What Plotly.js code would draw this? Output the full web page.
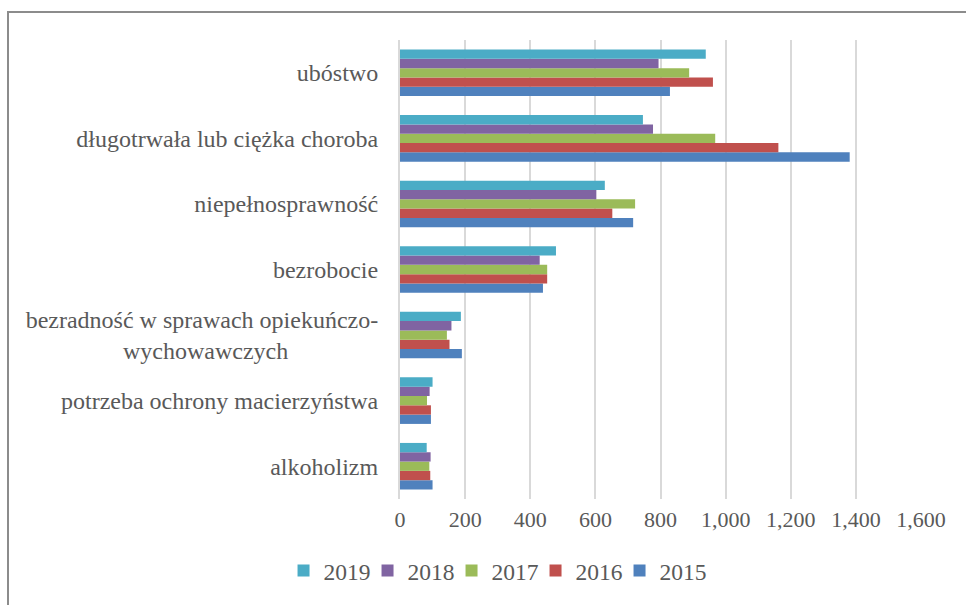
<!DOCTYPE html>
<html>
<head>
<meta charset="utf-8">
<script src="https://cdn.plot.ly/plotly-3.0.1.min.js"></script>
<style>
  body { margin: 0; background: #fff; }
  #frame { position: absolute; left: 7px; top: 11px; width: 1000px; height: 700px; border: 2px solid #8c8c8c; }
  #chart { position: absolute; left: 0; top: 0; width: 966px; height: 605px; }
</style>
</head>
<body>
<div id="frame"></div>
<div id="chart"></div>
<script>
// categories listed bottom to top
var categories = [
    'alkoholizm',
    'potrzeba ochrony macierzyństwa',
    'bezradność w sprawach opiekuńczo-<br>wychowawczych' + '\u00A0'.repeat(15),
    'bezrobocie',
    'niepełnosprawność',
    'długotrwała lub ciężka choroba',
    'ubóstwo'
];

var v2015 = [100, 95, 190, 439, 716, 1381, 829];
var v2016 = [93, 95, 152, 452, 652, 1162, 961];
var v2017 = [90, 83, 144, 452, 722, 968, 888];
var v2018 = [94, 91, 158, 429, 603, 777, 794];
var v2019 = [82, 100, 187, 479, 629, 746, 939];

var years = ['2015', '2016', '2017', '2018', '2019'];
var values = [v2015, v2016, v2017, v2018, v2019];
var colors = ['#4F81BD', '#C0504D', '#9BBB59', '#8064A2', '#4BACC6'];

var traces = years.map(function(y, i) {
    return {
        type: 'bar',
        orientation: 'h',
        name: y,
        y: categories,
        x: values[i],
        marker: { color: colors[i] },
        // last legend entry (2015) needs room for its text
        legendwidth: i === 0 ? 52 : 39
    };
});

var layout = {
    width: 966,
    height: 605,
    margin: { l: 400, r: 45, t: 40, b: 104 },
    paper_bgcolor: 'rgba(0,0,0,0)',
    plot_bgcolor: 'rgba(0,0,0,0)',
    font: { family: 'Liberation Serif, serif', size: 22, color: '#595959' },
    barmode: 'group',
    bargap: 0.29,
    bargroupgap: 0,
    showlegend: true,
    legend: {
        orientation: 'h',
        traceorder: 'reversed',
        x: 0.192, xanchor: 'center',
        y: -0.156, yanchor: 'middle',
        font: { size: 23.5, color: '#595959' }
    },
    xaxis: {
        range: [0, 1600],
        dtick: 200,
        tickformat: ',',
        tickfont: { size: 22 },
        showgrid: true,
        gridcolor: '#d9d9d9',
        gridwidth: 2,
        zeroline: false,
        ticklabelstandoff: 5,
        fixedrange: true
    },
    yaxis: {
        type: 'category',
        tickfont: { size: 24 },
        showgrid: false,
        showline: true,
        linecolor: '#d9d9d9',
        linewidth: 2,
        ticklabelstandoff: 15,
        fixedrange: true
    }
};

Plotly.newPlot('chart', traces, layout, { displayModeBar: false, staticPlot: true });
</script>
</body>
</html>
